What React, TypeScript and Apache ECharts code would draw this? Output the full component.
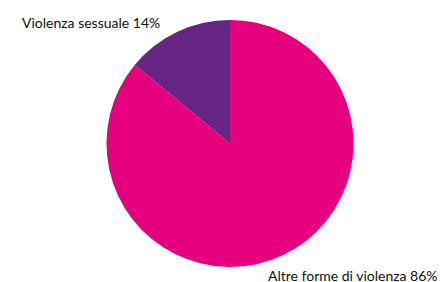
import React, { useEffect, useRef } from "react";
import * as echarts from "echarts";

const categories = ["Altre forme di violenza", "Violenza sessuale"];
const values = [86, 14];
const colors = ["#E6007E", "#662483"];

export default function App() {
  const ref = useRef<HTMLDivElement>(null);
  useEffect(() => {
    if (!ref.current) return;
    const chart = echarts.init(ref.current, null, { renderer: "svg" });
    chart.setOption({
      animation: false,
      backgroundColor: "#ffffff",
      series: [
        {
          type: "pie",
          center: [230, 143.5],
          radius: 123.5,
          startAngle: 90,
          clockwise: true,
          data: categories.map((c, i) => ({
            name: c,
            value: values[i],
            itemStyle: { color: colors[i] },
          })),
          label: {
            show: true,
            position: "outside",
            formatter: "{b} {c}%",
            color: "#111111",
            fontFamily: "Lato",
            fontSize: 14,
            overflow: "none",
          },
          labelLine: { show: false },
          labelLayout: (p: any) =>
            p.dataIndex === 0
              ? { x: 268, y: 275, align: "left", verticalAlign: "middle" }
              : { x: 22, y: 22, align: "left", verticalAlign: "middle" },
          emphasis: { disabled: true },
        },
      ],
    });
    return () => chart.dispose();
  }, []);
  return (
    <div
      ref={ref}
      style={{ position: "fixed", left: 0, top: 0, width: 440, height: 282 }}
    />
  );
}
